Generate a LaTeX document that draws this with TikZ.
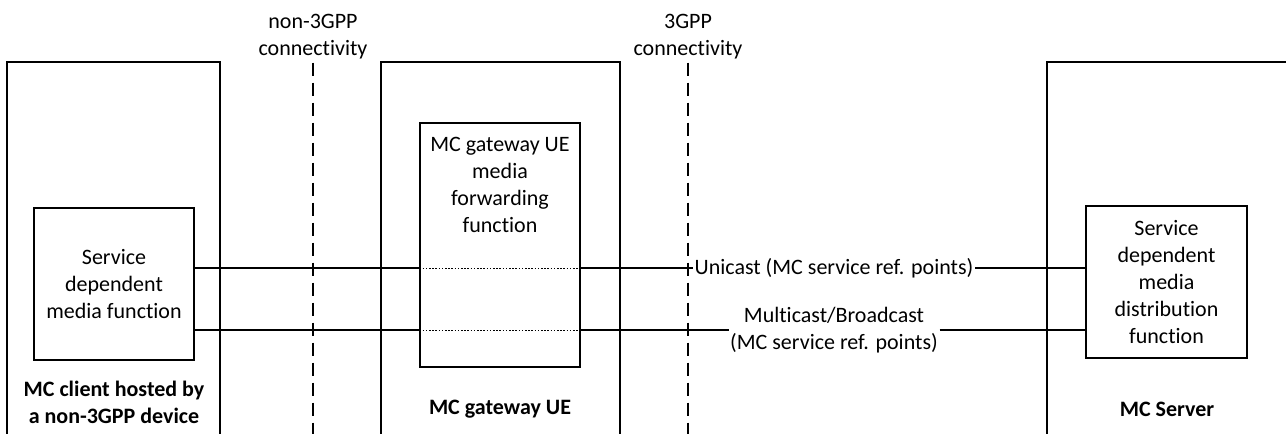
\documentclass[tikz,border=0pt]{standalone}
\usepackage{fontspec}
\setmainfont[Ligatures={NoCommon,TeX}]{Carlito}
\begin{document}
\begin{tikzpicture}[x=1pt,y=-1pt,
  box/.style={draw,line width=1.1pt,inner sep=0pt},
  txt/.style={align=center,font=\fontsize{22}{27}\selectfont,inner sep=0pt},
  btxt/.style={align=center,font=\fontsize{22}{27}\selectfont\bfseries,inner sep=0pt},
  conn/.style={line width=1.1pt},
  dotl/.style={line width=0.9pt,dash pattern=on 1.6pt off 1.6pt},
  bound/.style={line width=1.4pt,dash pattern=on 13pt off 7pt}]
\useasboundingbox (0,0) rectangle (1286,434);
\clip (0,0) rectangle (1286,434);
% outer containers (open at the bottom, cut by the page edge)
\node[box,minimum width=213pt,minimum height=400pt] (A) at (113.5,262) {};
\node[box,minimum width=239pt,minimum height=400pt] (B) at (500.5,262) {};
\node[box,minimum width=263pt,minimum height=400pt] (C) at (1178.5,262) {};
% inner functions
\node[box,txt,minimum width=160pt,minimum height=152pt] (L) at (114,284) {Service\\dependent\\media function};
\node[box,minimum width=160pt,minimum height=244pt] (G) at (500,245) {};
\node[txt] (Gt) at (500,185) {MC gateway UE\\media\\forwarding\\function};
\node[box,txt,minimum width=161pt,minimum height=152pt] (R) at (1166.5,282) {Service\\dependent\\media\\distribution\\function};
% container labels
\node[btxt] (Al) at (114,402) {MC client hosted by\\a non-3GPP device};
\node[btxt] (Bl) at (500,409) {MC gateway UE};
\node[btxt] (Cl) at (1167,409) {MC Server};
% connectivity boundaries
\node[txt] (n3) at (313,37) {non-3GPP\\connectivity};
\node[txt] (g3) at (688,37) {3GPP\\connectivity};
\coordinate (bot) at (0,440);
\draw[bound] (n3.south) ++(0,3) -- (n3 |- bot);
\draw[bound] (g3.south) ++(0,3) -- (g3 |- bot);
% reference points
\coordinate (yU) at (0,268);
\coordinate (yM) at (0,330);
\node[txt,inner sep=1.5pt] (U) at (834,268) {Unicast (MC service ref. points)};
\node[txt,inner sep=1.5pt] (M) at (834,330) {Multicast/Broadcast\\(MC service ref. points)};
\draw[conn] (L.east |- yU) -- (G.west |- yU);
\draw[dotl] (G.west |- yU) -- (G.east |- yU);
\draw[conn] (G.east |- yU) -- (U.west);
\draw[conn] (U.east) -- (R.west |- yU);
\draw[conn] (L.east |- yM) -- (G.west |- yM);
\draw[dotl] (G.west |- yM) -- (G.east |- yM);
\draw[conn] (G.east |- yM) -- (M.west |- yM);
\draw[conn] (M.east |- yM) -- (R.west |- yM);
\end{tikzpicture}
\end{document}
